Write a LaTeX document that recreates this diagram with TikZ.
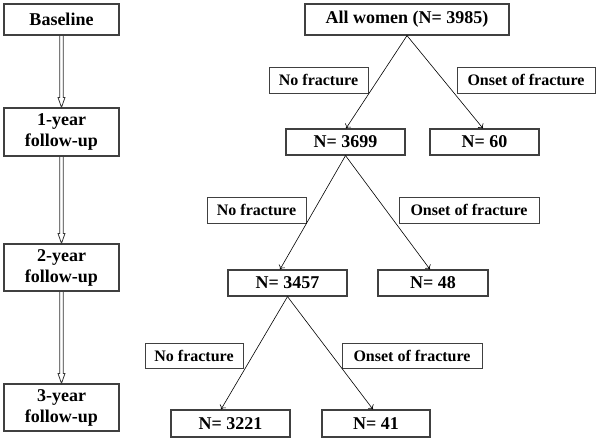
\documentclass[tikz,border=0pt]{standalone}
\usepackage{fontspec}
\setmainfont{Liberation Serif}
\usetikzlibrary{arrows.meta,calc}

\begin{document}
\begin{tikzpicture}[x=1pt,y=-1pt,
  box/.style={draw=black!75,line width=1.2pt,inner sep=0pt,align=center,
    font=\bfseries\fontsize{18}{21}\selectfont},
  tag/.style={draw=black!75,line width=1pt,inner sep=0pt,
    font=\bfseries\fontsize{16}{19}\selectfont},
  flow/.style={draw=black,line width=0.6pt,-{To[length=4pt,width=7pt]}},
  hollow/.style={draw=black!80,line width=0.8pt,to path={
    let \p1=(\tikztostart), \p2=(\tikztotarget) in
    (\x1-1.8pt,\y1) -- (\x1-1.8pt,\y2+10pt) -- (\x1-3.5pt,\y2+10pt) -- (\x1,\y2)
    -- (\x1+3.5pt,\y2+10pt) -- (\x1+1.8pt,\y2+10pt) -- (\x1+1.8pt,\y1)}}]
  \useasboundingbox (0,0) rectangle (602,442);

  % time line
  \node[box,minimum width=115pt,minimum height=31pt] (base) at (61.5,19.5) {Baseline};
  \node[box,minimum width=115pt,minimum height=48pt] (y1) at (61.5,132) {1-year\\follow-up};
  \node[box,minimum width=115pt,minimum height=47pt] (y2) at (61.5,267.5) {2-year\\follow-up};
  \node[box,minimum width=115pt,minimum height=47pt] (y3) at (61.5,407.5) {3-year\\follow-up};
  \foreach \a/\b in {base/y1,y1/y2,y2/y3}
    \draw[hollow] (\a.south) to (\b.north);

  % counts
  \node[box,minimum width=204pt,minimum height=31pt] (all) at (407,19.5) {All women (N= 3985)};
  \node[box,minimum width=119pt,minimum height=26pt] (n3699) at (345.5,142) {N= 3699};
  \node[box,minimum width=109pt,minimum height=26pt] (n60) at (484.5,142) {N= 60};
  \node[box,minimum width=119pt,minimum height=26pt] (n3457) at (287.5,283) {N= 3457};
  \node[box,minimum width=110pt,minimum height=26pt] (n48) at (433,283) {N= 48};
  \node[box,minimum width=119pt,minimum height=27pt] (n3221) at (230.5,423.5) {N= 3221};
  \node[box,minimum width=108pt,minimum height=27pt] (n41) at (376,423.5) {N= 41};

  % branch labels
  \node[tag,minimum width=99pt,minimum height=26pt] (nf1) at (318.5,80) {No fracture};
  \node[tag,minimum width=138pt,minimum height=26pt] (of1) at (526,80) {Onset of fracture};
  \node[tag,minimum width=99pt,minimum height=26pt] (nf2) at (256.5,210) {No fracture};
  \node[tag,minimum width=140pt,minimum height=26pt] (of2) at (469,210) {Onset of fracture};
  \node[tag,minimum width=98pt,minimum height=25pt] (nf3) at (194,355.5) {No fracture};
  \node[tag,minimum width=140pt,minimum height=25pt] (of3) at (412,355.5) {Onset of fracture};

  % arrow tips
  \coordinate (t3699) at ([xshift=0.5pt]n3699.north);
  \coordinate (t60) at ([xshift=-1.5pt]n60.north);
  \coordinate (t3457) at ([xshift=-7.5pt]n3457.north);
  \coordinate (t48) at ([xshift=-3pt]n48.north);
  \coordinate (t3221) at ([xshift=-9.5pt]n3221.north);
  \coordinate (t41) at ([xshift=-3pt]n41.north);
  \foreach \a/\b in {all/t3699,all/t60,n3699/t3457,n3699/t48,n3457/t3221,n3457/t41}
    \draw[flow] (\a.south) -- (\b);
\end{tikzpicture}
\end{document}
